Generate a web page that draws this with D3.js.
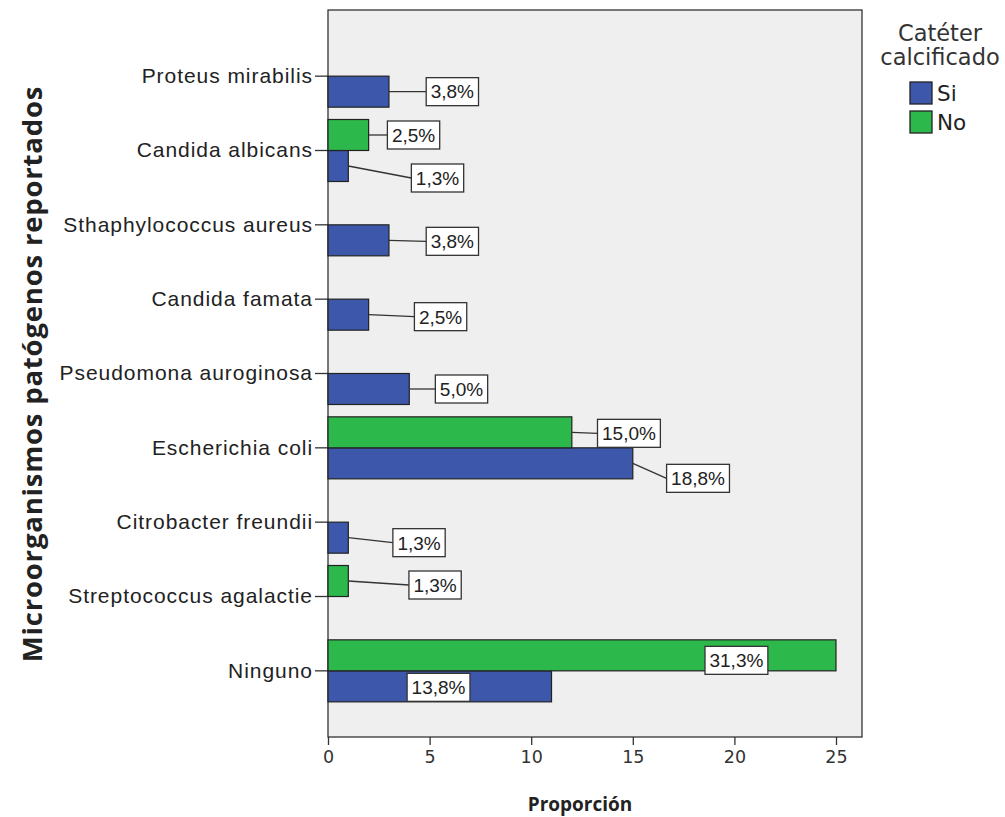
<!DOCTYPE html>
<html>
<head>
<meta charset="utf-8">
<script src="https://cdn.jsdelivr.net/npm/d3@7"></script>
<style>
  body { margin: 0; background: #fff; }
  svg { display: block; }
</style>
</head>
<body>
<div id="chart"></div>
<script>
// Data
const categories = [
  "Proteus mirabilis",
  "Candida albicans",
  "Sthaphylococcus aureus",
  "Candida famata",
  "Pseudomona auroginosa",
  "Escherichia coli",
  "Citrobacter freundii",
  "Streptococcus agalactie",
  "Ninguno"
];
const groups = ["Si", "No"];
// counts per category (null = no bar)
const siValues = [3, 1, 3, 2, 4, 15, 1, null, 11];
const noValues = [null, 2, null, null, null, 12, null, 1, 25];
const siLabels = ["3,8%", "1,3%", "3,8%", "2,5%", "5,0%", "18,8%", "1,3%", null, "13,8%"];
const noLabels = [null, "2,5%", null, null, null, "15,0%", null, "1,3%", "31,3%"];
const xTicks = [0, 5, 10, 15, 20, 25];

// Label placement (box centre in axis units, vertical nudge in px)
const siLabelPos = [[6.12, 0], [5.39, 12], [6.12, 1], [5.54, 2], [6.57, 0], [18.21, 15], [4.48, 5], null, [5.44, 1]];
const noLabelPos = [null, [4.21, 0], null, null, null, [14.81, 1], null, [5.27, 4], [20.10, 5]];

const colors = {Si: "#3d57aa", No: "#2db84b"};

const width = 1005, height = 817;
const plot = {left: 328, top: 10, right: 862, bottom: 737};

const svg = d3.select("#chart").append("svg")
  .attr("width", width).attr("height", height);

// plot background
svg.append("rect")
  .attr("x", plot.left).attr("y", plot.top)
  .attr("width", plot.right - plot.left).attr("height", plot.bottom - plot.top)
  .attr("fill", "#efefef").attr("stroke", "#333").attr("stroke-width", 1.3);

// scales
const xScale = d3.scaleLinear().domain([0, 25]).range([plot.left, 836]);
const yScale = d3.scaleBand().domain(categories)
  .range([plot.top, plot.bottom]).paddingOuter(0.39).paddingInner(0);
const barH = 31;

// x axis
const xAxis = svg.append("g")
  .attr("transform", `translate(0, ${plot.bottom})`)
  .call(d3.axisBottom(xScale).tickValues(xTicks).tickSize(8).tickSizeOuter(0).tickPadding(6));
xAxis.select(".domain").remove();
xAxis.selectAll("line").attr("stroke", "#333").attr("stroke-width", 1.3);
xAxis.selectAll("text")
  .attr("font-family", "DejaVu Sans").attr("font-size", 17.5).attr("fill", "#333");

// y axis
const yAxis = svg.append("g")
  .attr("transform", `translate(${plot.left}, 0)`)
  .call(d3.axisLeft(yScale).tickSize(13).tickSizeOuter(0).tickPadding(2));
yAxis.select(".domain").remove();
yAxis.selectAll("line").attr("stroke", "#333").attr("stroke-width", 1.3);
yAxis.selectAll("text")
  .attr("font-family", "Liberation Sans").attr("font-size", 21).attr("letter-spacing", 0.95)
  .attr("fill", "#222");

// bars and labels
const rows = [];
categories.forEach((c, i) => {
  if (siValues[i] != null) rows.push({cat: c, grp: "Si", v: siValues[i], label: siLabels[i], pos: siLabelPos[i]});
  if (noValues[i] != null) rows.push({cat: c, grp: "No", v: noValues[i], label: noLabels[i], pos: noLabelPos[i]});
});
const center = d => yScale(d.cat) + yScale.bandwidth() / 2;
const barY = d => d.grp === "Si" ? center(d) : center(d) - barH;

svg.append("g").selectAll("rect")
  .data(rows).join("rect")
    .attr("x", xScale(0))
    .attr("y", barY)
    .attr("width", d => xScale(d.v) - xScale(0))
    .attr("height", barH)
    .attr("fill", d => colors[d.grp])
    .attr("stroke", "#222").attr("stroke-width", 1.2);

const labels = svg.append("g").selectAll("g")
  .data(rows).join("g");

// connectors for labels outside the bars
labels.filter(d => xScale(d.pos[0]) > xScale(d.v))
  .append("line")
    .attr("x1", d => xScale(d.v))
    .attr("y1", d => barY(d) + barH / 2)
    .attr("y2", d => barY(d) + barH / 2 + d.pos[1])
    .attr("stroke", "#333").attr("stroke-width", 1.3);

labels.each(function(d) {
  const g = d3.select(this);
  const cx = xScale(d.pos[0]);
  const cy = barY(d) + barH / 2 + d.pos[1];
  const t = g.append("text")
    .attr("x", cx).attr("y", cy)
    .attr("text-anchor", "middle").attr("dy", "0.36em")
    .attr("font-family", "Liberation Sans").attr("font-size", 19).attr("fill", "#222")
    .text(d.label);
  const w = t.node().getComputedTextLength() + 9;
  g.insert("rect", "text")
    .attr("x", cx - w / 2).attr("y", cy - 14)
    .attr("width", w).attr("height", 28)
    .attr("fill", "#fff").attr("stroke", "#333").attr("stroke-width", 1.3);
  g.select("line").attr("x2", cx - w / 2);
});

// axis titles
svg.append("text")
  .attr("x", 580).attr("y", 811)
  .attr("text-anchor", "middle")
  .attr("font-family", "Open Sans").attr("font-weight", "bold").attr("font-size", 19)
  .attr("fill", "#222")
  .text("Proporción");

svg.append("text")
  .attr("transform", "translate(42, 374) rotate(-90)")
  .attr("text-anchor", "middle")
  .attr("font-family", "Open Sans").attr("font-weight", "bold").attr("font-size", 27.5)
  .attr("letter-spacing", 0.8)
  .attr("fill", "#222")
  .text("Microorganismos patógenos reportados");

// legend
const legend = svg.append("g");
legend.append("text")
  .attr("x", 940).attr("y", 41).attr("text-anchor", "middle")
  .attr("font-family", "DejaVu Sans").attr("font-size", 22.5).attr("fill", "#333")
  .text("Catéter");
legend.append("text")
  .attr("x", 940).attr("y", 65).attr("text-anchor", "middle")
  .attr("font-family", "DejaVu Sans").attr("font-size", 22.5).attr("fill", "#333")
  .text("calcificado");
groups.forEach((grp, i) => {
  legend.append("rect")
    .attr("x", 910).attr("y", 82 + i * 29)
    .attr("width", 22).attr("height", 22)
    .attr("fill", colors[grp]).attr("stroke", "#222").attr("stroke-width", 1.3);
  legend.append("text")
    .attr("x", 937).attr("y", 93 + i * 29).attr("dy", "0.36em")
    .attr("font-family", "DejaVu Sans").attr("font-size", 21.5).attr("fill", "#222")
    .text(grp);
});
</script>
</body>
</html>
